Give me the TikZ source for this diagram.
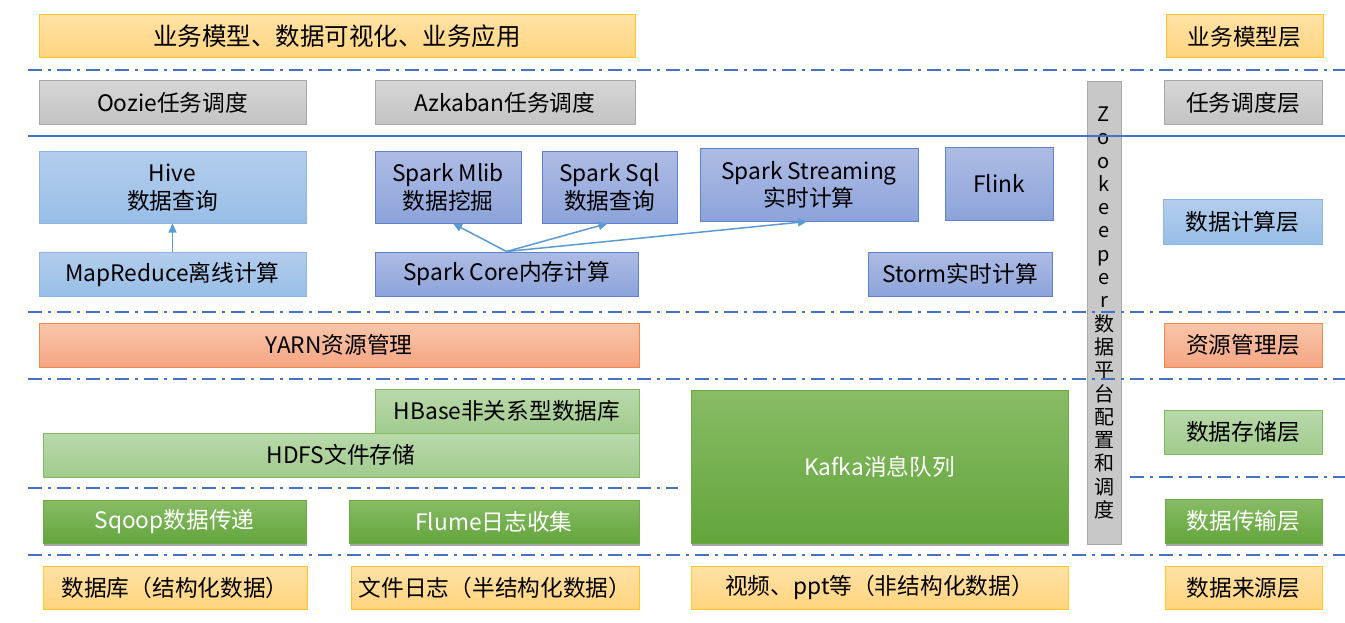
\documentclass[tikz,border=0pt]{standalone}
\usepackage{fontspec}
\setmainfont{Noto Sans CJK SC}
\usetikzlibrary{arrows.meta,shadows}
\definecolor{yelT}{HTML}{FFE2A6}\definecolor{yelB}{HTML}{FFD47E}\definecolor{yelD}{HTML}{FFC425}
\definecolor{gryT}{HTML}{D6D6D6}\definecolor{gryB}{HTML}{C3C3C3}\definecolor{gryD}{HTML}{A8A8A8}
\definecolor{lbT}{HTML}{B3CDEC}\definecolor{lbB}{HTML}{98BEE7}\definecolor{lbD}{HTML}{8DB4E2}
\definecolor{pbT}{HTML}{AEBCE4}\definecolor{pbB}{HTML}{8CA3DA}\definecolor{pbD}{HTML}{5F82CD}
\definecolor{orT}{HTML}{F8C6AA}\definecolor{orB}{HTML}{F4A582}\definecolor{orD}{HTML}{F08A4B}
\definecolor{lgT}{HTML}{B9D9AB}\definecolor{lgB}{HTML}{A1CB8D}\definecolor{lgD}{HTML}{80B95E}
\definecolor{gnT}{HTML}{88BC66}\definecolor{gnB}{HTML}{63A53B}\definecolor{gnD}{HTML}{6AAA45}
\definecolor{zkF}{HTML}{C8C8C8}\definecolor{zkD}{HTML}{A9A9A9}
\definecolor{lineC}{HTML}{4472C4}\definecolor{arrC}{HTML}{5B9BD5}
\tikzset{
  box/.style={rectangle, inner sep=0pt, line width=1pt, align=center,
    font=\fontsize{22.7}{27.5}\selectfont},
  yelbox/.style={box, top color=yelT, bottom color=yelB, draw=yelD},
  grybox/.style={box, top color=gryT, bottom color=gryB, draw=gryD},
  lbbox/.style={box, top color=lbT, bottom color=lbB, draw=lbD},
  pbbox/.style={box, top color=pbT, bottom color=pbB, draw=pbD},
  orbox/.style={box, top color=orT, bottom color=orB, draw=orD},
  lgbox/.style={box, top color=lgT, bottom color=lgB, draw=lgD},
  gnbox/.style={box, top color=gnT, bottom color=gnB, draw=gnD, text=white,
    drop shadow={shadow xshift=1pt, shadow yshift=-3pt, opacity=0.35, fill=black}},
  sepline/.style={draw=lineC, line width=2pt, dash pattern=on 14pt off 6pt on 3pt off 6pt},
  solidsep/.style={draw=lineC, line width=1.4pt},
  arr/.style={draw=arrC, line width=1.5pt, -{Triangle[length=9pt,width=8pt]}},
}
\begin{document}
\begin{tikzpicture}[x=1pt,y=-1pt]
\useasboundingbox[fill=white] (0,0) rectangle (1345,623);
% row 1
\node[yelbox, minimum width=596, minimum height=43, font=\fontsize{24.5}{28}\selectfont] (top) at (337,36.5) {业务模型、数据可视化、业务应用};
\node[yelbox, minimum width=157, minimum height=43] (l1) at (1244.5,36.5) {业务模型层};
% row 2
\node[grybox, minimum width=267, minimum height=44] (oozie) at (172.5,103) {Oozie任务调度};
\node[grybox, minimum width=260, minimum height=44] (azk) at (505,103) {Azkaban任务调度};
\node[grybox, minimum width=158, minimum height=44] (l2) at (1243,103) {任务调度层};
% row 3
\node[lbbox, minimum width=267, minimum height=71] (hive) at (172.5,187.5) {Hive\\数据查询};
\node[pbbox, minimum width=146, minimum height=71] (mlib) at (448,187.5) {Spark Mlib\\数据挖掘};
\node[pbbox, minimum width=135, minimum height=71] (sql) at (609.5,187.5) {Spark Sql\\数据查询};
\node[pbbox, minimum width=218, minimum height=72] (stream) at (809,185) {Spark Streaming\\实时计算};
\node[pbbox, minimum width=108, minimum height=72] (flink) at (999,184) {Flink};
\node[lbbox, minimum width=159, minimum height=44] (l3) at (1242.5,222) {数据计算层};
\node[lbbox, minimum width=267, minimum height=44] (mr) at (172.5,274) {MapReduce离线计算};
\node[pbbox, minimum width=263, minimum height=44] (core) at (506.5,274) {Spark Core内存计算};
\node[pbbox, minimum width=184, minimum height=44] (storm) at (960,274) {Storm实时计算};
% zookeeper
\node[rectangle, inner sep=0pt, fill=zkF, draw=zkD, line width=1pt, minimum width=34, minimum height=462,
  align=center, font=\fontsize{20}{23.3}\selectfont] (zk) at (1104,313)
  {Z\\o\\o\\k\\e\\e\\p\\e\\r\\数\\据\\平\\台\\配\\置\\和\\调\\度};
% row 4
\node[orbox, minimum width=600, minimum height=44] (yarn) at (339,345) {YARN资源管理};
\node[orbox, minimum width=158, minimum height=44] (l4) at (1243,345) {资源管理层};
% row 5
\node[lgbox, minimum width=264, minimum height=44] (hbase) at (507,411) {HBase非关系型数据库};
\node[lgbox, minimum width=596, minimum height=44] (hdfs) at (341,455) {HDFS文件存储};
\node[gnbox, minimum width=377, minimum height=153] (kafka) at (879.5,466.5) {Kafka消息队列};
\node[lgbox, minimum width=158, minimum height=44] (l5) at (1243,432) {数据存储层};
% row 6
\node[gnbox, minimum width=263, minimum height=43] (sqoop) at (174.5,521.5) {Sqoop数据传递};
\node[gnbox, minimum width=290, minimum height=43] (flume) at (494,521.5) {Flume日志收集};
\node[gnbox, minimum width=157, minimum height=44] (l6) at (1243.5,521) {数据传输层};
% row 7
\node[yelbox, minimum width=264, minimum height=43] (db) at (175,587.5) {数据库（结构化数据）};
\node[yelbox, minimum width=288, minimum height=43] (log) at (495,587.5) {文件日志（半结构化数据）};
\node[yelbox, minimum width=377, minimum height=43] (video) at (879.5,587.5) {视频、ppt等（非结构化数据）};
\node[yelbox, minimum width=157, minimum height=43] (l7) at (1243.5,587.5) {数据来源层};
% separators
\draw[sepline] (28,70) -- (1345,70);
\draw[solidsep] (28,136) -- (1345,136);
\draw[sepline] (28,312) -- (1345,312);
\draw[sepline] (28,379) -- (1345,379);
\draw[sepline] (28,488) -- (678,488);
\draw[sepline] (1130,477) -- (1345,477);
\draw[sepline] (28,555) -- (1345,555);
% arrows
\draw[arr] (mr.north) -- (hive.south);
\draw[arr] (core.north) -- ([xshift=5pt]mlib.south);
\draw[arr] (core.north) -- ([xshift=-2pt]sql.south);
\draw[arr] (core.north) -- ([xshift=-2pt]stream.south);
\end{tikzpicture}
\end{document}
